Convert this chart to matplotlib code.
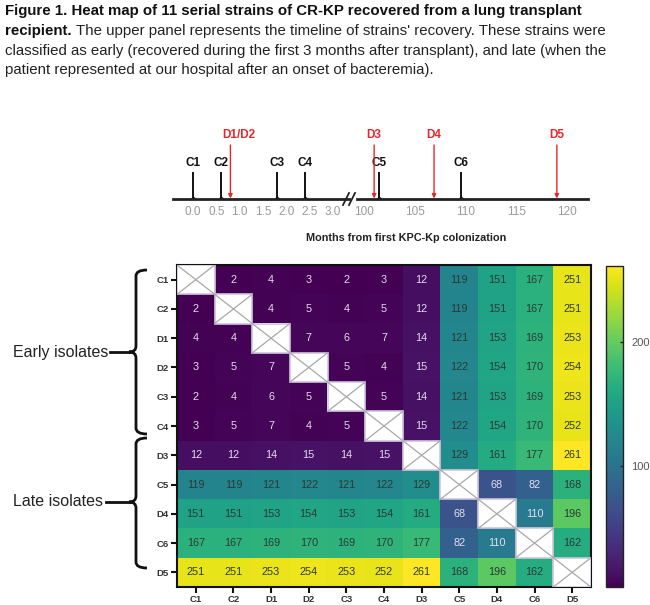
import numpy as np
import matplotlib
matplotlib.use("Agg")
import matplotlib.pyplot as plt
from matplotlib.patches import Rectangle, PathPatch
from matplotlib.path import Path

plt.rcParams.update({
    "font.family": ["Liberation Sans", "DejaVu Sans"],
})

# ── data ────────────────────────────────────────────────
STRAINS = ["C1", "C2", "D1", "D2", "C3", "C4", "D3", "C5", "D4", "C6", "D5"]
SNP = np.array([
    [  0,   2,   4,   3,   2,   3,  12, 119, 151, 167, 251],
    [  2,   0,   4,   5,   4,   5,  12, 119, 151, 167, 251],
    [  4,   4,   0,   7,   6,   7,  14, 121, 153, 169, 253],
    [  3,   5,   7,   0,   5,   4,  15, 122, 154, 170, 254],
    [  2,   4,   6,   5,   0,   5,  14, 121, 153, 169, 253],
    [  3,   5,   7,   4,   5,   0,  15, 122, 154, 170, 252],
    [ 12,  12,  14,  15,  14,  15,   0, 129, 161, 177, 261],
    [119, 119, 121, 122, 121, 122, 129,   0,  68,  82, 168],
    [151, 151, 153, 154, 153, 154, 161,  68,   0, 110, 196],
    [167, 167, 169, 170, 169, 170, 177,  82, 110,   0, 162],
    [251, 251, 253, 254, 253, 252, 261, 168, 196, 162,   0],
], dtype=float)

# timeline (months from first KPC-Kp colonization)
C_LABELS = ["C1", "C2", "C3", "C4", "C5", "C6"]
C_MONTHS = [0.0, 0.6, 1.8, 2.4, 101.5, 109.6]
D_LABELS = ["D1/D2", "D3", "D4", "D5"]
D_MONTHS = [0.8, 101.0, 106.9, 119.0]
EARLY_TICKS = [0.0, 0.5, 1.0, 1.5, 2.0, 2.5, 3.0]
LATE_TICKS = [100, 105, 110, 115, 120]

W, H = 650, 605
fig = plt.figure(figsize=(W / 100, H / 100), dpi=100)

def px_axes(x0, y0, x1, y1):
    # rect given in pixels from top-left
    return fig.add_axes([x0 / W, 1 - y1 / H, (x1 - x0) / W, (y1 - y0) / H])

# ── caption ─────────────────────────────────────────────
overlay = px_axes(0, 0, W, H)
overlay.set_xlim(0, W)
overlay.set_ylim(H, 0)
overlay.axis("off")

CAP_FS = 10.8
overlay.text(5, 15, "Figure 1. Heat map of 11 serial strains of CR-KP recovered from a lung transplant",
             fontsize=CAP_FS, fontweight="bold", va="baseline", color="#111")
t_bold = overlay.text(5, 35, "recipient.", fontsize=CAP_FS, fontweight="bold",
                      va="baseline", color="#111")
fig.canvas.draw()
bb = t_bold.get_window_extent()
x_after = bb.x1 + 4
overlay.text(x_after, 35, "The upper panel represents the timeline of strains' recovery. These strains were",
             fontsize=CAP_FS, va="baseline", color="#222")
overlay.text(5, 55, "classified as early (recovered during the first 3 months after transplant), and late (when the",
             fontsize=CAP_FS, va="baseline", color="#222")
overlay.text(5, 74, "patient represented at our hospital after an onset of bacteremia).",
             fontsize=CAP_FS, va="baseline", color="#222")

# ── timeline (broken axis) ──────────────────────────────
ax_l = px_axes(173, 119, 349, 199)
ax_r = px_axes(357, 119, 588, 199)
ax_l.set_xlim(-0.43, 3.34)
ax_r.set_xlim(99.31, 122.07)

for ax, ticks, fmt in [(ax_l, EARLY_TICKS, "{:.1f}"), (ax_r, LATE_TICKS, "{:d}")]:
    ax.set_ylim(0, 80)
    ax.set_xticks(ticks)
    ax.set_xticklabels([fmt.format(t) for t in ticks])
    ax.tick_params(axis="x", length=0, pad=5, labelsize=8.5, labelcolor="#9a9a9a")
    ax.set_yticks([])
    for s in ["top", "left", "right"]:
        ax.spines[s].set_visible(False)
    ax.spines["bottom"].set_linewidth(2)
    ax.spines["bottom"].set_color("#222")
    ax.patch.set_alpha(0)

def draw_events(ax, lo, hi):
    for lab, m in zip(C_LABELS, C_MONTHS):
        if lo <= m <= hi:
            ax.plot([m, m], [0, 27], color="#111", lw=1.4, solid_capstyle="butt")
            ax.plot(m, 0.5, "o", color="#111", ms=2.5)
            ax.text(m, 36, lab, ha="center", va="center", fontsize=8.5,
                    fontweight="bold", color="#111")
    for lab, m in zip(D_LABELS, D_MONTHS):
        if lo <= m <= hi:
            ax.annotate("", xy=(m, 0.5), xytext=(m, 54),
                        arrowprops=dict(arrowstyle="-|>", color="#e8262a", lw=1.0,
                                        mutation_scale=6, shrinkA=0, shrinkB=0))
            dx = 6 if "/" in lab else 0
            ax.annotate(lab, xy=(m, 64), xytext=(dx, 0), textcoords="offset points",
                        ha="center", va="center", fontsize=8.5, fontweight="bold",
                        color="#e8262a")

draw_events(ax_l, -1, 5)
draw_events(ax_r, 90, 130)

# break marks
for bx in [346, 352]:
    overlay.plot([bx - 3, bx + 3], [205, 193], color="#222", lw=1.3)

overlay.text(406, 238, "Months from first KPC-Kp colonization", ha="center", va="center",
             fontsize=7.8, fontweight="bold", color="#222")

# ── heatmap ─────────────────────────────────────────────
ax_h = px_axes(177, 265, 591, 587)
n = len(STRAINS)
masked = np.ma.masked_where(np.eye(n, dtype=bool), SNP)
im = ax_h.imshow(masked, cmap="viridis", vmin=2, vmax=261, aspect="auto",
                 interpolation="nearest")

for i in range(n):
    for j in range(n):
        if i == j:
            ax_h.add_patch(Rectangle((j - 0.5, i - 0.5), 1, 1, facecolor="white",
                                     edgecolor="#cfc6dc", lw=1.2, zorder=3))
            ax_h.plot([j - 0.5, j + 0.5], [i - 0.5, i + 0.5], color="#a8a8a8", lw=0.9, zorder=4)
            ax_h.plot([j - 0.5, j + 0.5], [i + 0.5, i - 0.5], color="#a8a8a8", lw=0.9, zorder=4)
            continue
        v = SNP[i, j]
        col = "#e6dcef" if v < 115 else "#2b3a35"
        ax_h.text(j, i, f"{int(v)}", ha="center", va="center", fontsize=7.8, color=col)

ax_h.set_xticks(range(n))
ax_h.set_xticklabels(STRAINS)
ax_h.set_yticks(range(n))
ax_h.set_yticklabels(STRAINS)
ax_h.set_xlim(-0.5, n - 0.5)
ax_h.set_ylim(n - 0.5, -0.5)
ax_h.tick_params(length=4, width=1.5, color="#111", labelsize=6.8, pad=2)
for lab in ax_h.get_xticklabels() + ax_h.get_yticklabels():
    lab.set_fontweight("bold")
    lab.set_color("#333")
for s in ax_h.spines.values():
    s.set_linewidth(1.5)
    s.set_color("#111")

# colorbar
cax = px_axes(606, 266, 623, 587)
cb = fig.colorbar(im, cax=cax, ticks=[100, 200])
cb.ax.tick_params(direction="in", length=2, width=1, color="#222",
                  labelsize=8, labelcolor="#555", pad=6)
cb.outline.set_linewidth(1.0)
cb.outline.set_edgecolor("#222")

# ── brackets for early / late groups ────────────────────
def brace(y0, y1, ym, xs=147, xv=136, xn=129):
    r = 6
    verts = [(xs, y0), (xv, y0), (xv, y0 + r), (xv, ym - r), (xv, ym), (xn, ym),
             (xv, ym), (xv, ym + r), (xv, y1 - r), (xv, y1), (xs, y1)]
    codes = [Path.MOVETO, Path.CURVE3, Path.CURVE3, Path.LINETO, Path.CURVE3, Path.CURVE3,
             Path.CURVE3, Path.CURVE3, Path.LINETO, Path.CURVE3, Path.CURVE3]
    overlay.add_patch(PathPatch(Path(verts, codes), facecolor="none", edgecolor="#111",
                                lw=2, capstyle="butt"))

brace(270, 434, 352)
brace(438, 568, 502)
overlay.plot([110, 130], [352, 352], color="#111", lw=2)
overlay.plot([106, 130], [502, 502], color="#111", lw=2)
overlay.text(13, 352, "Early isolates", fontsize=11.5, va="center", ha="left", color="#222")
overlay.text(13, 502, "Late isolates", fontsize=11.5, va="center", ha="left", color="#222")

fig.savefig("out.png", dpi=100, facecolor="white")
